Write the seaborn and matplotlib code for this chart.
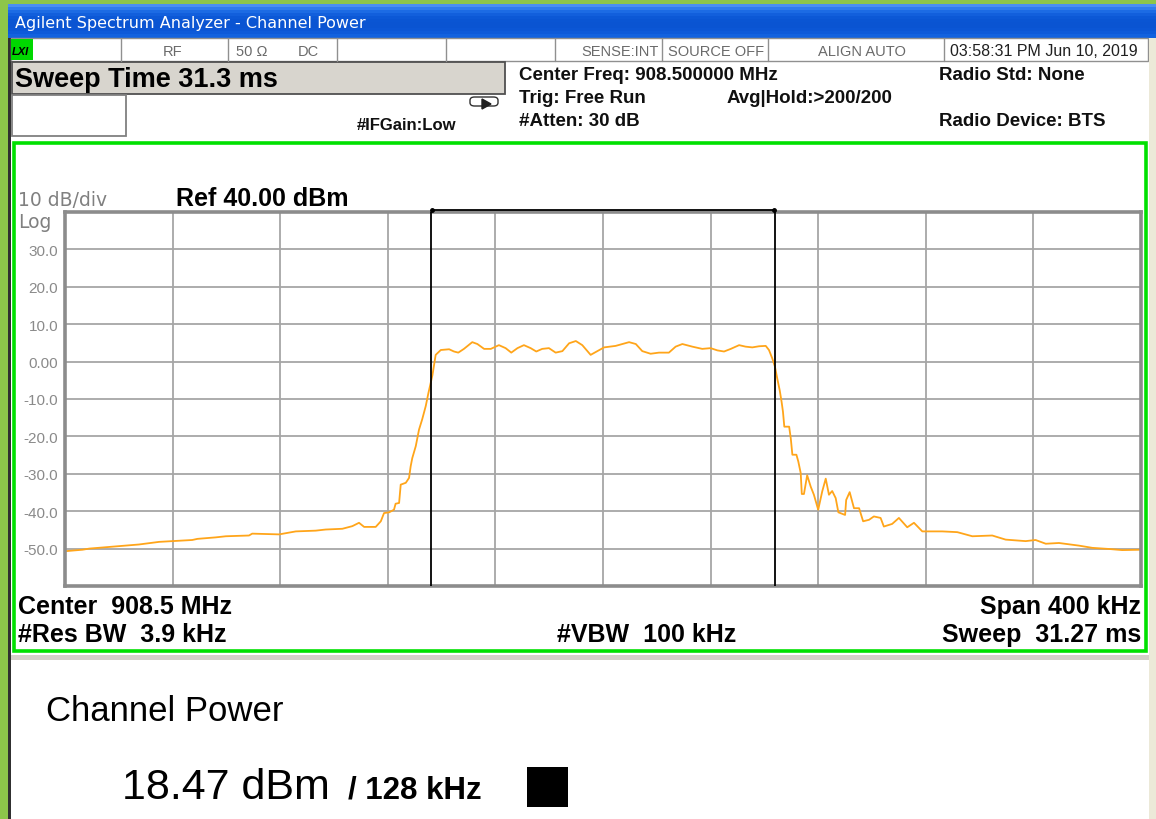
import numpy as np
import matplotlib
matplotlib.use("Agg")
import matplotlib.pyplot as plt
import seaborn as sns
from matplotlib.patches import Rectangle, FancyBboxPatch, Polygon

# trace: offset from centre (kHz) and level (dBm)
freq_khz = [-200, -193.5, -191, -181.1, -172.5, -165, -160.1, -152.7, -150.8, -144,
            -140.2, -131.6, -130.4, -120.4, -114.2, -106.8, -103.1, -96.9, -93.2, -90.7,
            -88.8, -84.5, -82.6, -81.4, -79.5, -77.7, -77.1, -75.8, -75.2, -73.3,
            -72.1, -71.5, -70.9, -69.6, -68.4, -67.2, -65.9, -64.9, -63.4, -62.2,
            -60.3, -57.2, -55.4, -53.8, -51.7, -48.6, -46.7, -44.2, -41.7, -38.7,
            -36.2, -34.1, -31.8, -29.4, -26.9, -24.8, -22.6, -20.1, -17.6, -15.1,
            -12.6, -10.1, -7.7, -4.6, -2.1, 0.4, 4.7, 7.2, 9.7, 12.2,
            14.6, 17.7, 20.8, 24.5, 27.0, 29.5, 33.2, 36.9, 40.0, 42.5,
            45.0, 47.5, 50.6, 53.0, 55.5, 58.0, 60.5, 61.7, 62.9, 63.9,
            64.8, 65.7, 66.4, 66.9, 67.4, 69.2, 69.8, 70.4, 71.9, 72.6,
            73.5, 73.9, 74.7, 75.9, 77.2, 78.4, 80.0, 81.5, 82.8, 84.0,
            85.2, 86.5, 87.5, 90.0, 90.4, 91.7, 93.3, 95.2, 96.7, 98.9,
            100.7, 103.2, 104.4, 107.5, 110.0, 113.1, 115.6, 118.7, 126.1, 131.7,
            137.3, 144.7, 149.7, 157.1, 160.8, 164.6, 169.5, 176.9, 181.9, 188.1,
            193.0, 200]
level_dbm = [-50.7, -50.3, -50.0, -49.4, -48.9, -48.2, -48.0, -47.7, -47.4, -47.0,
             -46.7, -46.5, -46.0, -46.2, -45.4, -45.2, -44.9, -44.7, -44.0, -43.1,
             -44.2, -44.2, -42.7, -40.5, -40.3, -39.6, -38.0, -37.8, -32.9, -32.4,
             -31.1, -28.0, -25.8, -22.6, -18.2, -15.4, -11.9, -8.4, -3.6, 1.8,
             3.1, 3.3, 2.7, 2.4, 3.4, 5.2, 4.7, 3.4, 3.4, 4.4,
             3.6, 2.4, 3.6, 4.4, 3.6, 2.7, 3.4, 3.6, 2.4, 2.8,
             4.9, 5.5, 4.4, 1.8, 2.8, 3.8, 4.2, 4.7, 5.2, 4.7,
             2.8, 2.1, 2.4, 2.4, 4.0, 4.7, 4.0, 3.4, 3.6, 3.0,
             2.7, 3.4, 4.4, 4.0, 3.8, 4.1, 4.2, 3.1, 0.9, -1.3,
             -4.6, -7.7, -10.8, -13.4, -17.4, -17.4, -20.5, -24.9, -24.9, -26.7,
             -29.8, -35.4, -35.4, -30.4, -33.4, -35.6, -39.6, -34.7, -31.3, -35.6,
             -34.6, -36.5, -40.3, -41.0, -37.0, -34.9, -39.2, -39.2, -42.7, -42.3,
             -41.4, -41.8, -44.1, -43.4, -41.8, -44.3, -43.1, -45.4, -45.4, -45.6,
             -46.7, -46.5, -47.6, -48.0, -47.7, -48.7, -48.5, -49.2, -49.8, -50.1,
             -50.4, -50.3]

channel_edges_khz = [-64, 64]
x_grid_khz = [-160, -120, -80, -40, 0, 40, 80, 120, 160]
y_ticks_db = [30, 20, 10, 0, -10, -20, -30, -40, -50]
y_tick_labels = ["30.0", "20.0", "10.0", "0.00", "-10.0", "-20.0", "-30.0", "-40.0", "-50.0"]

W, H = 1156, 820

sns.set_theme(style="white")
plt.rcParams['font.family'] = ['Liberation Sans', 'DejaVu Sans']

fig = plt.figure(figsize=(W / 100, H / 100), dpi=100)


def box(x0, y0, x1, y1, **kw):
    kw.setdefault('zorder', -1)
    r = Rectangle((x0 / W, 1 - y1 / H), (x1 - x0) / W, (y1 - y0) / H,
                  transform=fig.transFigure, **kw)
    fig.add_artist(r)
    return r


def txt(x, y, s, **kw):
    kw.setdefault('va', 'baseline')
    return fig.text(x / W, 1 - y / H, s, **kw)


# window frame and title bar (blue gradient)
box(0, 0, W, 5, facecolor='#8dc64a', edgecolor='none')
box(0, 0, 8, H, facecolor='#8dc64a', edgecolor='none')
box(8, 5, 10.5, H, facecolor='#303030', edgecolor='none')
bar_cols = ['#4a90f2', '#2f7cec', '#1c6be4', '#125fdc', '#0c58d6', '#0a55d3',
            '#0a54d2', '#0a54d2', '#0b56d5', '#0d5ad9', '#1262df']
step = 33 / len(bar_cols)
for i, c in enumerate(bar_cols):
    box(8, 5 + i * step, W, 5 + (i + 1) * step + 0.5, facecolor=c, edgecolor='none')
txt(15, 28, "Agilent Spectrum Analyzer - Channel Power", color='white',
    fontsize=11.5, family=['DejaVu Sans'])

# status row
box(10.5, 39, 1148, 61.5, facecolor='white', edgecolor='#909090', linewidth=1)
for xv in [121, 228, 337, 446, 555, 662, 768, 944]:
    fig.add_artist(plt.Line2D([xv / W, xv / W], [1 - 39 / H, 1 - 61.5 / H],
                              transform=fig.transFigure, color='#909090', lw=1))
box(10.5, 40, 33, 61, facecolor='#00d800', edgecolor='none', zorder=1)
txt(12, 55, "LXI", fontsize=8, fontweight='bold', style='italic', color='black')
status_kw = dict(fontsize=10.5, color='#6a6a6a')
txt(173, 56, "RF", ha='center', **status_kw)
txt(236, 56, "50 Ω", **status_kw)
txt(298, 56, "DC", **status_kw)
txt(659, 56, "SENSE:INT", ha='right', **status_kw)
txt(668, 56, "SOURCE OFF", **status_kw)
txt(862, 56, "ALIGN AUTO", ha='center', **status_kw)
txt(950, 56, "03:58:31 PM Jun 10, 2019", fontsize=11.5, color='#202020')

# sweep time box and header
box(12, 63, 505, 94.5, facecolor='#d8d5ce', edgecolor='#505050', linewidth=1.3)
txt(15, 87, "Sweep Time 31.3 ms", fontsize=19.5, fontweight='bold', color='black')
box(12, 96, 126, 137, facecolor='white', edgecolor='#808080', linewidth=1.3)
fig.add_artist(FancyBboxPatch((470 / W, 1 - 107 / H), 28 / W, 9 / H,
                              boxstyle="round,pad=0,rounding_size=0.004",
                              transform=fig.transFigure, facecolor='white',
                              edgecolor='#303030', lw=1))
fig.add_artist(Polygon([[482 / W, 1 - 100 / H], [482 / W, 1 - 110 / H], [491 / W, 1 - 105 / H]],
                       closed=True, transform=fig.transFigure, color='#202020'))
txt(357, 130, "#IFGain:Low", fontsize=12, fontweight='bold', color='#101010')

hdr_kw = dict(fontsize=13.5, fontweight='bold', color='#101010')
txt(519, 80, "Center Freq: 908.500000 MHz", **hdr_kw)
txt(519, 103, "Trig: Free Run", **hdr_kw)
txt(727, 103, "Avg|Hold:>200/200", **hdr_kw)
txt(519, 126, "#Atten: 30 dB", **hdr_kw)
txt(939, 80, "Radio Std: None", **hdr_kw)
txt(939, 126, "Radio Device: BTS", **hdr_kw)

# right strip
box(1149, 39, W, H, facecolor='#ece9d8', edgecolor='none')

# green measurement panel
box(14, 143.5, 1145.5, 652, facecolor='white', edgecolor='#00e000', linewidth=2.6)

# lower result panel
box(10.5, 656, 1149, 661, facecolor='#d4d0c8', edgecolor='none')

# spectrum axes
ax = fig.add_axes([65 / W, 1 - 587 / H, (1141 - 65) / W, (587 - 213) / H])
ax.set_facecolor('white')
sns.lineplot(x=freq_khz, y=level_dbm, ax=ax, color='#ffa51a', linewidth=1.3, sort=False)
for fk in channel_edges_khz:
    ax.axvline(fk, color='black', lw=1.3, zorder=4)
ax.plot([channel_edges_khz[0] + 0.6, channel_edges_khz[1] - 0.6], [40.5, 40.5],
        color='black', lw=1.3, marker='o', markersize=2.5, clip_on=False, zorder=5)
ax.set_xlim(-200, 200)
ax.set_ylim(-60, 40)
ax.set_xticks(x_grid_khz)
ax.set_xticklabels([])
ax.set_yticks(y_ticks_db)
ax.set_yticklabels(y_tick_labels)
ax.tick_params(length=0, pad=5, labelsize=11, labelcolor='#8a8a8a')
ax.grid(True, color='#a6a6a6', linewidth=1.3)
for sp in ax.spines.values():
    sp.set_color('#8c8c8c')
    sp.set_linewidth(2.6)
ax.set_xlabel("")
ax.set_ylabel("")

txt(18, 206, "10 dB/div", fontsize=13.5, color='#808080', family=['DejaVu Sans'])
txt(18, 228, "Log", fontsize=13.5, color='#808080', family=['DejaVu Sans'])
txt(176, 206, "Ref 40.00 dBm", fontsize=18, fontweight='bold', color='black')

bot_kw = dict(fontsize=18, fontweight='bold', color='black')
txt(18, 614, "Center  908.5 MHz", **bot_kw)
txt(1141, 614, "Span 400 kHz", ha='right', **bot_kw)
txt(18, 642, "#Res BW  3.9 kHz", **bot_kw)
txt(557, 642, "#VBW  100 kHz", **bot_kw)
txt(1141, 642, "Sweep  31.27 ms", ha='right', **bot_kw)

txt(46, 721, "Channel Power", fontsize=25, color='black')
txt(122, 799, "18.47 dBm", fontsize=31, color='black')
txt(348, 799, "/ 128 kHz", fontsize=22.5, fontweight='bold', color='black')
box(527, 768, 568, 808, facecolor='black', edgecolor='none', zorder=2)

fig.savefig("out.png", dpi=100)
